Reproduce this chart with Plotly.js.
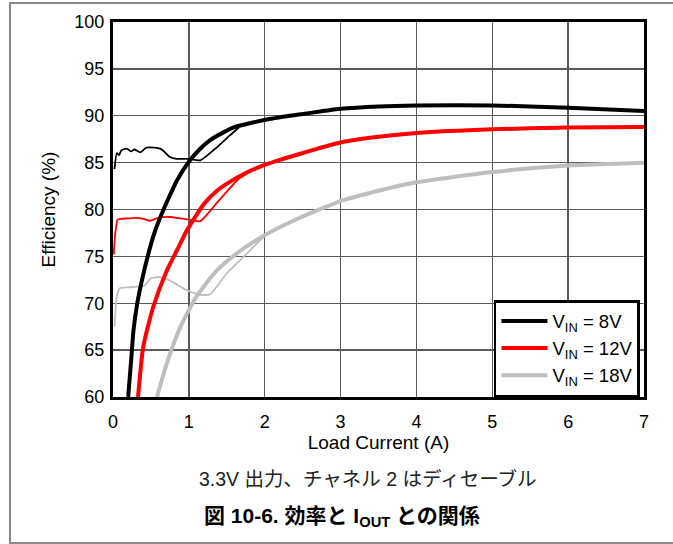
<!DOCTYPE html>
<html>
<head>
<meta charset="utf-8">
<script src="https://cdn.plot.ly/plotly-3.0.1.min.js"></script>
<style>
html,body{margin:0;padding:0;background:#fff;}
#wrap{position:relative;width:673px;height:544px;overflow:hidden;}
#chart{position:absolute;left:0;top:0;width:673px;height:544px;}
.frame{position:absolute;background:#8a8a8a;pointer-events:none;}
</style>
</head>
<body>
<div id="wrap">
<div id="chart"></div>
<div class="frame" style="left:9px;top:2px;width:664px;height:2px;"></div>
<div class="frame" style="left:9px;top:2px;width:2px;height:542px;"></div>
<div class="frame" style="left:9px;top:542px;width:664px;height:2px;"></div>
</div>
<script>
// Load current (A) and efficiency (%)
const x8 = [0.20,0.24,0.27,0.32,0.38,0.47,0.55,0.63,0.71,0.85,1.0,1.14,1.28,1.45,1.59,1.8,2.03,2.47,3,3.5,4,5,6,7];
const y8 = [60,64.0,67.1,70.0,72.4,75.4,77.6,79.3,80.8,83.2,85.1,86.4,87.4,88.2,88.75,89.2,89.6,90.15,90.75,91.0,91.1,91.1,90.85,90.5];
const x8L = [0.02,0.05,0.08,0.11,0.18,0.24,0.28,0.36,0.44,0.55,0.62,0.66,0.75,0.84,1.0,1.15,1.35,1.54,1.66];
const y8L = [84.3,86.0,85.8,86.3,86.5,86.2,86.4,86.1,86.6,86.6,86.5,86.3,85.6,85.4,85.4,85.25,86.5,87.9,88.75];

const x12 = [0.33,0.40,0.53,0.71,0.84,0.97,1.06,1.2,1.37,1.55,1.75,2.0,2.2,2.47,2.7,3,3.5,4,5,6,7];
const y12 = [60,65.4,69.6,73.5,75.6,77.7,78.9,80.6,82.0,83.0,83.9,84.75,85.3,85.95,86.5,87.15,87.75,88.15,88.55,88.75,88.8];
const x12L = [0.01,0.03,0.06,0.1,0.2,0.3,0.4,0.49,0.56,0.62,0.75,0.89,1.02,1.15,1.4,1.65,1.9];
const y12L = [75.2,77.5,78.9,79.0,79.05,79.1,79.0,78.8,79.0,79.15,79.2,79.05,78.9,78.75,81.0,83.2,84.5];

const x18 = [0.58,0.71,0.89,1.1,1.37,1.68,2.03,2.35,2.69,3,3.5,4,5,6,7];
const y18 = [60,63.6,67.5,70.7,73.5,75.6,77.4,78.7,79.9,80.9,82.0,82.9,84.0,84.7,85.0];
const x18L = [0.02,0.05,0.09,0.2,0.36,0.42,0.49,0.6,0.7,0.8,0.97,1.15,1.28,1.5,1.72,2.0];
const y18L = [67.5,70.7,71.6,71.7,71.8,71.9,72.6,72.8,72.6,72.2,71.4,70.9,70.95,73.2,74.95,77.2];

const seriesNames = ["V<sub>IN</sub> = 8V","V<sub>IN</sub> = 12V","V<sub>IN</sub> = 18V"];
const colors = ["#000000","#ff0000","#bebebe"];

const xTicks = [0,1,2,3,4,5,6,7];
const yTicks = [60,65,70,75,80,85,90,95,100];

const captionText = "3.3V 出力、チャネル 2 はディセーブル";
const figTitle = "<b>図 10-6. 効率と I<sub>OUT</sub> との関係</b>";

const thick = [[x8,y8],[x12,y12],[x18,y18]];
const thin = [[x8L,y8L],[x12L,y12L],[x18L,y18L]];

const traces = [];
thin.forEach((d,i)=>{
  traces.push({x:d[0],y:d[1],type:'scatter',mode:'lines',showlegend:false,
    line:{color:colors[i],width:1.8,shape:'spline',smoothing:0.5},hoverinfo:'skip'});
});
thick.forEach((d,i)=>{
  traces.push({x:d[0],y:d[1],type:'scatter',mode:'lines',name:seriesNames[i],
    line:{color:colors[i],width:4,shape:'spline',smoothing:0.6}});
});

const font = "Liberation Sans, Arial, Noto Sans CJK JP, sans-serif";
const layout = {
  width:673,height:544,
  margin:{l:113,r:29,t:22,b:147},
  paper_bgcolor:'rgba(0,0,0,0)',plot_bgcolor:'#fff',
  font:{family:font,size:18,color:'#000'},
  showlegend:true,
  legend:{x:0.7175,xanchor:'left',y:0,yanchor:'bottom',bgcolor:'#fff',
    bordercolor:'#000',borderwidth:2.5,font:{size:18.5,family:font},
    tracegroupgap:0,itemwidth:46},
  xaxis:{range:[0,7],tickvals:xTicks,ticktext:xTicks.map(String),
    showgrid:true,gridcolor:'#5a5a5a',gridwidth:1.3,zeroline:false,
    showline:true,linecolor:'#000',linewidth:3,mirror:true,
    ticks:'',ticklabelstandoff:6,tickfont:{size:18},
    title:{text:'Load Current (A)',font:{size:19},standoff:1}},
  yaxis:{range:[60,100],tickvals:yTicks,ticktext:yTicks.map(String),
    showgrid:true,gridcolor:'#5a5a5a',gridwidth:1.3,zeroline:false,
    showline:true,linecolor:'#000',linewidth:3,mirror:true,
    ticks:'',ticklabelstandoff:2,tickfont:{size:18},
    title:{text:'Efficiency (%)',font:{size:19},standoff:14}},
  annotations:[
    {text:captionText,xref:'paper',yref:'paper',x:0.48,y:-0.219,xanchor:'center',yanchor:'middle',
     showarrow:false,font:{size:19.5,color:'#222',family:"Liberation Sans, Noto Sans CJK JP, sans-serif"}},
    {text:figTitle,xref:'paper',yref:'paper',x:0.431,y:-0.321,xanchor:'center',yanchor:'middle',
     showarrow:false,font:{size:21,color:'#000',family:"Liberation Sans, Noto Sans CJK JP, sans-serif"}}
  ]
};
Plotly.newPlot('chart',traces,layout,{displayModeBar:false,staticPlot:true});
</script>
</body>
</html>
